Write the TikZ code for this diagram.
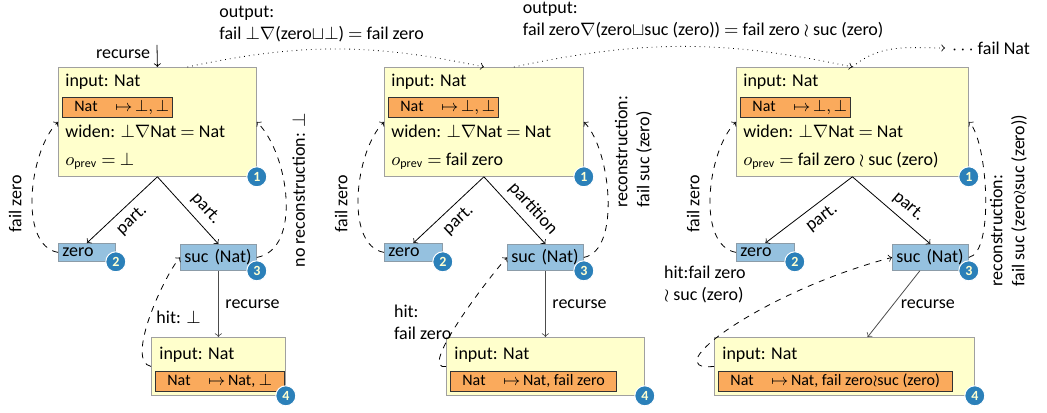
\documentclass[tikz,border=0pt]{standalone}
\usepackage{fontspec}
\setmainfont{Carlito}
\usetikzlibrary{calc}

\definecolor{boxyellow}{HTML}{FFFFCC}
\definecolor{boxgray}{HTML}{A0A0A0}
\definecolor{maporange}{HTML}{FAAA5C}
\definecolor{partblue}{HTML}{95C1DF}
\definecolor{partgray}{HTML}{8C9CA8}
\definecolor{badgeblue}{HTML}{2B80B9}
\definecolor{badgetext}{HTML}{FFFFD0}

\tikzset{
  bigbox/.style={draw=boxgray, fill=boxyellow, anchor=north west, inner sep=0pt},
  mapbox/.style={draw=black!80, fill=maporange, anchor=north west, inner xsep=6pt,
    inner ysep=0pt, minimum height=10pt, align=left, font=\fontsize{8}{9.6}\selectfont},
  partbox/.style={draw=partgray, fill=partblue, anchor=north west, inner xsep=2pt,
    inner ysep=0pt, align=left},
  badge/.style={circle, fill=badgeblue, draw=white, line width=0.5pt, inner sep=0pt,
    minimum size=10pt, text=badgetext, font=\fontsize{7}{7}\selectfont\bfseries},
  txt/.style={anchor=base west, inner sep=0pt},
  partarrow/.style={->},
  recarrow/.style={->, draw=black!70},
  backarrow/.style={->, dashed},
  outarrow/.style={->, dotted},
}

\newcommand{\mapRow}[1]{\makebox[20.5pt][l]{Nat}$\mapsto$\,#1}

% top box: name, x, y, width, o_prev
\newcommand{\topBox}[5]{%
  \begin{scope}[shift={(#2,#3)}]%
    \node[bigbox, minimum width=#4, minimum height=54.5pt] (#1) at (0,0) {};
    \node[txt] (#1-in) at (7,-20) {input: Nat};
    \node[mapbox, text width=43pt] (#1-map) at (4,-30) {\mapRow{$\bot, \bot$}};
    \node[txt] (#1-wid) at (7,-71) {widen: $\bot\nabla$Nat $=$ Nat};
    \node[txt] (#1-prev) at (7,-99) {$o_{\mathrm{prev}}$ $=$ #5};
    \node[badge] (#1-n) at (#1.south east) {1};
  \end{scope}%
}

% bottom box: name, x, y, width, map text
\newcommand{\botBox}[5]{%
  \begin{scope}[shift={(#2,#3)}]%
    \node[bigbox, minimum width=#4, minimum height=29pt] (#1) at (0,0) {};
    \node[txt] (#1-in) at (8,-22) {input: Nat};
    \node[mapbox] (#1-map) at (4,-34) {\mapRow{#5}};
    \node[badge] (#1-n) at (#1.south east) {4};
  \end{scope}%
}

% partition box: name, x, y, text width, height, text, number
\newcommand{\partBox}[7]{%
  \node[partbox, text width=#4, minimum height=#5] (#1) at (#2,#3) {#6};
  \node[badge] (#1-n) at (#1.south east) {#7};
}

\begin{document}
\begin{tikzpicture}[x=0.5pt, y=0.5pt, font=\fontsize{9}{11}\selectfont]
  \useasboundingbox (0,0) rectangle (1047,412);

  % boxes
  \topBox{a1}{58}{345}{99pt}{$\bot$}
  \topBox{b1}{384}{345}{99.5pt}{fail zero}
  \topBox{c1}{736}{345}{116pt}{fail zero $\wr$ suc (zero)}

  \partBox{a2}{58}{169}{24.5pt}{9pt}{zero}{2}
  \partBox{a3}{180}{168}{34pt}{13pt}{suc (Nat)}{3}
  \partBox{b2}{384}{169}{25pt}{9pt}{zero}{2}
  \partBox{b3}{507}{168}{34pt}{13pt}{suc (Nat)}{3}
  \partBox{c2}{736}{169}{25pt}{9pt}{zero}{2}
  \partBox{c3}{892}{168}{34pt}{13pt}{suc (Nat)}{3}

  \botBox{a4}{151}{75}{67pt}{Nat, $\bot$}
  \botBox{b4}{446}{75}{99pt}{Nat, fail zero}
  \botBox{c4}{714}{75}{130pt}{Nat, fail zero$\wr$suc (zero)}

  % first column
  \coordinate (a0) at (157,367);
  \draw[partarrow] (a0) -- node[left, pos=0.4] (a0-l) {recurse} (a1.north);
  \draw[partarrow] (a1.south) -- node[sloped, below] (a12-l) {part.} (a2.north);
  \draw[partarrow] (a1.south) -- node[sloped, above, pos=0.62] (a13-l) {part.} (a3.north);
  \draw[backarrow] (a2.west) to[out=170, in=225, looseness=0.8]
    node[pos=0.45, anchor=south, rotate=90, inner sep=5pt] (a21-l) {fail zero} (a1.west);
  \draw[backarrow] (a3.east) to[out=10, in=-45, looseness=0.87]
    node[pos=0.55, anchor=north, rotate=90] (a31-l) {no reconstruction: $\bot$} (a1.east);
  \draw[recarrow] (a3) -- node[right] (a34-l) {recurse} (a4);
  \draw[backarrow] (a4.west) to[out=170, in=230, looseness=0.6]
    node[pos=0.5, anchor=west] (a43-l) {hit: $\bot$} (a3.west);

  % second column
  \draw[outarrow] ([xshift=15pt]a1.north) to[out=12, in=168]
    node[above, xshift=-7pt, align=left] (a-out) {output:\\fail $\bot\nabla$(zero$\sqcup\bot$) $=$ fail zero} (b1.north);
  \draw[partarrow] (b1.south) -- node[sloped, below] (b12-l) {part.} (b2.north);
  \draw[partarrow] (b1.south) -- node[sloped, above, pos=0.62] (b13-l) {partition} (b3.north);
  \draw[backarrow] (b2.west) to[out=170, in=225, looseness=0.8]
    node[pos=0.45, anchor=south, rotate=90, inner sep=5pt] (b21-l) {fail zero} (b1.west);
  \draw[backarrow] (b3.east) to[out=10, in=-45, looseness=0.72]
    node[pos=0.4, anchor=north west, rotate=90, align=left] (b31-l) {reconstruction:\\fail suc (zero)} (b1.east);
  \draw[recarrow] (b3) -- node[right] (b34-l) {recurse} (b4);
  \draw[backarrow] (b4.west) to[out=190, in=228, looseness=0.6]
    node[pos=0.5, anchor=east, align=left] (b43-l) {hit:\\fail zero} (b3.west);

  % third column
  \node[anchor=west] (more) at (945,364) {$\cdots$ fail Nat};
  \draw[outarrow] ([xshift=15pt]b1.north) to[out=12, in=168]
    node[above, xshift=10pt, align=left] (b-out) {output:\\fail zero$\nabla$(zero$\sqcup$suc (zero)) $=$ fail zero $\wr$ suc (zero)} (c1.north);
  \draw[outarrow] (c1.north) to[out=40, in=180] (more.west);
  \draw[partarrow] (c1.south) -- node[sloped, below, pos=0.45] (c12-l) {part.} (c2.north);
  \draw[partarrow] (c1.south) -- node[sloped, above, pos=0.6] (c13-l) {part.} (c3.north);
  \draw[backarrow] (c2.west) to[out=170, in=225, looseness=0.8]
    node[pos=0.45, anchor=south, rotate=90, inner sep=5pt] (c21-l) {fail zero} (c1.west);
  \draw[backarrow] (c3.east) to[out=10, in=-45, looseness=0.5] (c1.east);
  \node[anchor=north west, rotate=90, align=left] (c31-l) at ($(c3.east)+(14,-36)$)
    {reconstruction:\\fail suc (zero$\wr$suc (zero))};
  \draw[recarrow] (c3) -- node[right] (c34-l) {recurse} (c4);
  \draw[backarrow] (c4.west) .. controls ($(c4.west)+(-60,-6)$) and ($(c3.west)+(-132,-35)$) .. (c3.west);
  \node[anchor=north west, align=left] (c43-l) at (657,153) {hit:fail zero\\$\wr$ suc (zero)};
\end{tikzpicture}
\end{document}
